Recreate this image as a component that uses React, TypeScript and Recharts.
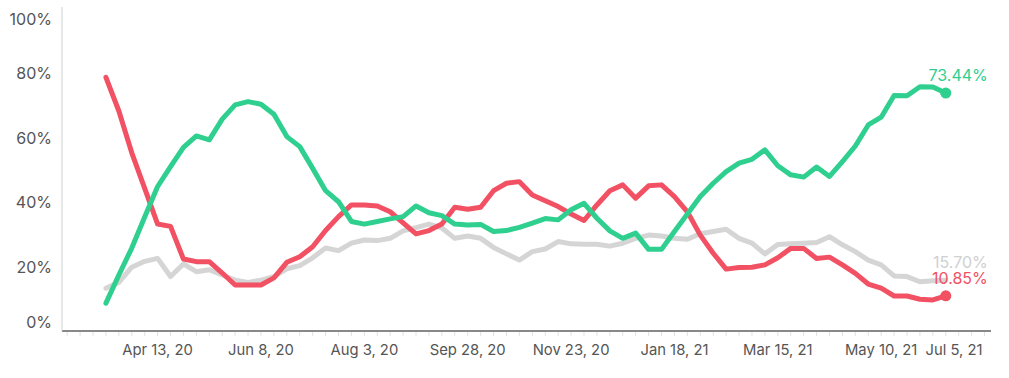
import React from 'react';
import { LineChart, Line, XAxis, YAxis } from 'recharts';

// weekly shares, first week = Mar 16, 2020, last = Jun 14, 2021
const positive = [
    8.6, 17.3, 25.6, 35.2, 44.6, 50.7, 56.7, 60.2, 59, 65.4, 69.8, 70.8, 70, 66.9, 60, 56.9, 50.2,
    43.3, 39.9, 33.8, 33, 33.8, 34.6, 35.3, 38.6, 36.5, 35.6, 33, 32.7, 32.9, 30.7, 31, 32, 33.3,
    34.7, 34.3, 37.4, 39.4, 34.8, 30.9, 28.6, 30.2, 25.2, 25.2, 30.7, 36.1, 41.5, 45.6, 49.2, 51.8,
    53, 55.9, 51, 48.2, 47.5, 50.6, 47.7, 52.3, 57.1, 63.6, 66, 72.7, 72.6, 75.4, 75.3, 73.44,
];
const negative = [
    78.3, 67.9, 55, 44, 33, 32.3, 22.2, 21.4, 21.4, 17.9, 14.2, 14.2, 14.2, 16.4, 21.2, 22.9, 26,
    31, 35.3, 38.9, 38.9, 38.6, 36.8, 33.4, 30, 31, 33, 38.2, 37.6, 38.2, 43.3, 45.6, 46.1, 42,
    40.2, 38.4, 36.1, 34.1, 38.9, 43.3, 45.1, 41, 44.8, 45.1, 41.5, 36.8, 29.6, 24, 19.1, 19.6,
    19.7, 20.4, 22.6, 25.5, 25.5, 22.4, 22.8, 20.4, 17.8, 14.5, 13.2, 10.8, 10.8, 9.8, 9.6, 10.85,
];
const neutral = [
    13.2, 15, 19.7, 21.5, 22.4, 16.8, 20.7, 18.3, 18.9, 17.3, 15.7, 15, 15.7, 16.8, 19.2, 20.2, 22.6,
    25.6, 24.8, 27.1, 28.1, 27.9, 28.6, 30.9, 31.9, 33, 31.8, 28.6, 29.3, 28.6, 25.8, 23.8, 21.9,
    24.5, 25.3, 27.6, 26.9, 26.8, 26.8, 26.2, 27.1, 28.6, 29.6, 29.3, 28.6, 28.3, 30, 30.7, 31.4,
    28.6, 27.1, 23.8, 26.7, 26.9, 27.1, 27.3, 29.1, 26.6, 24.5, 21.9, 20.4, 17, 16.8, 15.2, 15.5, 15.7,
];

const tickWeeks = [4, 12, 20, 28, 36, 44, 52, 60, 68];
const tickLabels = ['Apr 13, 20', 'Jun 8, 20', 'Aug 3, 20', 'Sep 28, 20', 'Nov 23, 20', 'Jan 18, 21', 'Mar 15, 21', 'May 10, 21', 'Jul 5, 21'];
const yTicks = [0, 20, 40, 60, 80, 100];

const GREEN = '#2fcf8f';
const RED = '#f25163';
const GRAY = '#d5d5d5';
const FONT = 'Inter, "Noto Sans", sans-serif';

const data = positive.map((v, i) => ({ week: i, positive: v, negative: negative[i], neutral: neutral[i] }));
const last = data.length - 1;
const minorTicks = Array.from({ length: 72 }, (_, k) => k - 3);

const XTick = (props: any) => {
    const { x, y, payload } = props;
    const idx = tickWeeks.indexOf(payload.value);
    const isLast = idx === tickWeeks.length - 1;
    return (
        <g>
            <line x1={x} x2={x} y1={y + 1} y2={y + 5} stroke="#e2e2e2" strokeWidth={1} />
            {idx >= 0 && (
                <text x={isLast ? x - 2 : x} y={y + 24} textAnchor={isLast ? 'end' : 'middle'} fill="#555" fontSize={14.8} fontFamily={FONT}>
                    {tickLabels[idx]}
                </text>
            )}
        </g>
    );
};

const YTick = (props: any) => {
    const { y, payload } = props;
    const v = payload.value;
    const shift = v === 100 ? 10 : v === 0 ? -9 : 1;
    return (
        <text x={52} y={y + shift + 6} textAnchor="end" fill="#555" fontSize={16} fontFamily={FONT}>
            {v}%
        </text>
    );
};

const endDot = (color: string) => (p: any) => (
    p.index === last
        ? <circle key={p.key ?? p.index} cx={p.cx} cy={p.cy} r={5.5} fill={color} />
        : <g key={p.key ?? p.index} />
);

const endLabel = (color: string) => (p: any) => (
    p.index === last
        ? <text key={p.index} x={p.x + 42} y={p.y - 12} textAnchor="end" fill={color} fontSize={16} fontFamily={FONT}>
            {Number(p.value).toFixed(2)}%
        </text>
        : <g key={p.index} />
);

export default function App() {
    return (
        <div style={{ position: 'absolute', left: 0, top: 0, width: 1009, height: 378, background: '#fff' }}>
            <LineChart width={1009} height={378} data={data} margin={{ top: 7, right: 18, bottom: 7, left: 0 }}>
                <XAxis
                    dataKey="week" type="number" domain={[-3.4, 68.5]} ticks={minorTicks} interval={0}
                    tick={XTick} tickLine={false} tickSize={0} tickMargin={0} height={40}
                    axisLine={{ stroke: '#888', strokeWidth: 2 }} allowDataOverflow
                />
                <YAxis
                    type="number" domain={[0, 100]} ticks={yTicks} width={62}
                    tick={YTick} tickLine={false} axisLine={{ stroke: '#d0d0d0', strokeWidth: 1 }}
                />
                <Line dataKey="neutral" stroke={GRAY} strokeWidth={5} dot={false} label={endLabel('#d0d0d0')} isAnimationActive={false} strokeLinejoin="round" strokeLinecap="round" />
                <Line dataKey="negative" stroke={RED} strokeWidth={5} dot={endDot(RED)} label={endLabel(RED)} isAnimationActive={false} strokeLinejoin="round" strokeLinecap="round" />
                <Line dataKey="positive" stroke={GREEN} strokeWidth={5} dot={endDot(GREEN)} label={endLabel(GREEN)} isAnimationActive={false} strokeLinejoin="round" strokeLinecap="round" />
            </LineChart>
        </div>
    );
}
